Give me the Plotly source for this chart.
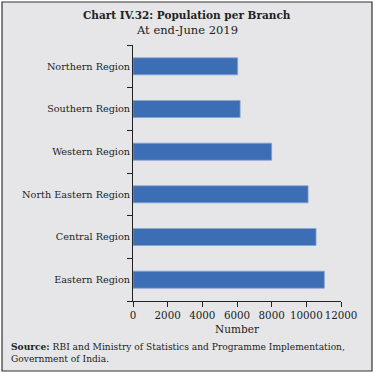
import plotly.graph_objects as go

regions = ["Northern Region", "Southern Region", "Western Region",
           "North Eastern Region", "Central Region", "Eastern Region"]
population_per_branch = [6040, 6180, 8000, 10100, 10560, 11040]
x_ticks = [0, 2000, 4000, 6000, 8000, 10000, 12000]

FONT = "DejaVu Serif"
W, H = 375, 374
L, R, T, B = 133, 34, 45, 73
pw, ph = W - L - R, H - T - B


def px(x):
    return (x - L) / pw


def py(y):
    return (H - B - y) / ph


fig = go.Figure(go.Bar(
    y=regions, x=population_per_branch, orientation="h",
    marker=dict(color="#3c6eb6", line=dict(color="#86a3d0", width=0.8)),
    width=0.4,
))

fig.update_layout(
    width=W, height=H,
    margin=dict(l=L, r=R, t=T, b=B),
    paper_bgcolor="white", plot_bgcolor="rgba(0,0,0,0)",
    showlegend=False,
    font=dict(family=FONT, size=10, color="#222222"),
    xaxis=dict(range=[0, 12000], tickvals=x_ticks, ticktext=[str(v) for v in x_ticks],
               tickangle=0,
               showgrid=False, zeroline=False, showline=True, linecolor="#222222",
               linewidth=1, ticks="outside", ticklen=5, tickcolor="#222222",
               tickfont=dict(size=10.3, family=FONT),
               title=dict(text="Number", font=dict(size=10.5, family=FONT), standoff=5)),
    yaxis=dict(categoryorder="array", categoryarray=regions[::-1],
               showgrid=False, zeroline=False, showline=True, linecolor="#222222",
               linewidth=1, ticks="outside", ticklen=5, tickcolor="#222222",
               tickson="boundaries", tickfont=dict(size=9.7, family=FONT)),
    shapes=[dict(type="rect", xref="paper", yref="paper",
                 x0=px(2), x1=px(372), y0=py(371), y1=py(2),
                 fillcolor="#e6e6e8", line=dict(color="#333333", width=1.2),
                 layer="below")],
    annotations=[
        dict(text="<b>Chart IV.32: Population per Branch</b>", xref="paper", yref="paper",
             x=px(187), y=py(15), showarrow=False, xanchor="center", yanchor="middle",
             font=dict(size=10.5, family=FONT, color="#222222")),
        dict(text="At end-June 2019", xref="paper", yref="paper",
             x=px(187), y=py(30), showarrow=False, xanchor="center", yanchor="middle",
             font=dict(size=11.5, family=FONT, color="#222222")),
        dict(text="<b>Source:</b> RBI and Ministry of Statistics and Programme Implementation,<br>Government of India.",
             xref="paper", yref="paper", x=px(9), y=py(339), showarrow=False,
             xanchor="left", yanchor="top", align="left",
             font=dict(size=9.1, family=FONT, color="#222222")),
    ],
)

fig.write_html("out.html", config={"displayModeBar": False},
               post_script="document.body.style.margin='0';")
